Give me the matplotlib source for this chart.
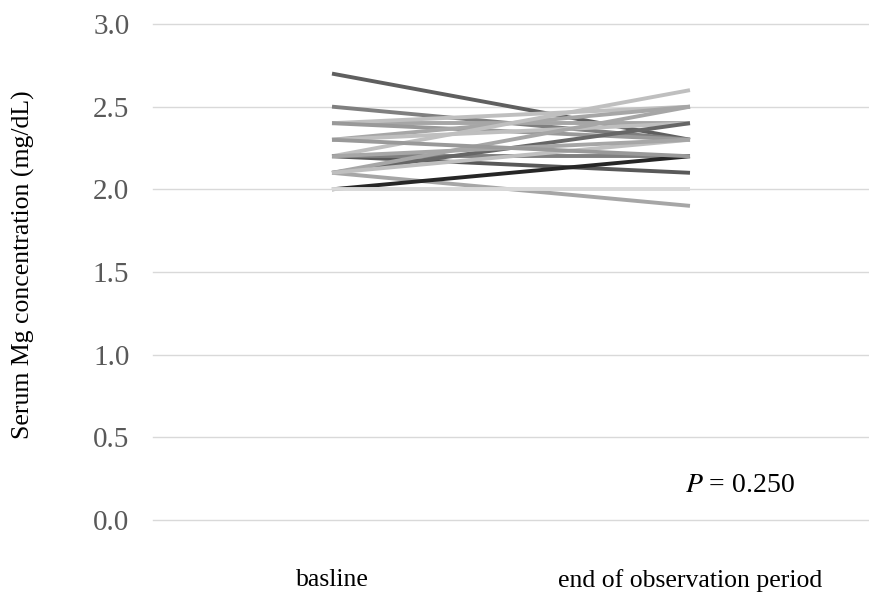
import matplotlib
matplotlib.use("Agg")
import matplotlib.pyplot as plt

categories = ["basline", "end of observation period"]
baseline = [2.7, 2.5, 2.4, 2.4, 2.4, 2.3, 2.3, 2.2, 2.2, 2.2, 2.1, 2.1, 2.1, 2.0, 2.0, 2.1, 2.2, 2.3]
end_obs  = [2.3, 2.3, 2.4, 2.5, 2.3, 2.5, 2.4, 2.6, 2.1, 2.2, 2.4, 2.5, 1.9, 2.2, 2.0, 2.3, 2.3, 2.2]
colors = ["#5f5f5f", "#7f7f7f", "#a6a6a6", "#bfbfbf", "#999999", "#a6a6a6", "#bfbfbf",
          "#bfbfbf", "#595959", "#7f7f7f", "#666666", "#a6a6a6", "#a6a6a6", "#262626",
          "#d9d9d9", "#bfbfbf", "#a6a6a6", "#999999"]
yticks = [0.0, 0.5, 1.0, 1.5, 2.0, 2.5, 3.0]

plt.rcParams['font.family'] = ['Liberation Serif', 'DejaVu Serif']
fig = plt.figure(figsize=(8.69, 5.95), dpi=100)
ax = fig.add_axes([153/869, 75/595, 716/869, 496/595])

x = [0, 1]
for b, e, c in zip(baseline, end_obs, colors):
    ax.plot(x, [b, e], color=c, lw=2.8, solid_capstyle='butt', zorder=3)

ax.set_xlim(-0.5, 1.5)
ax.set_ylim(0, 3)
ax.set_yticks(yticks)
ax.set_yticklabels([f"{v:.1f}" for v in yticks], fontsize=21, color="#595959")
ax.set_xticks(x)
ax.set_xticklabels(categories, fontsize=18.5, color="#000000")
ax.tick_params(axis='both', length=0)
ax.tick_params(axis='y', pad=17)
ax.tick_params(axis='x', pad=35)
ax.yaxis.grid(True, color="#d9d9d9", lw=1)
for gl in ax.get_ygridlines():
    gl.set_clip_on(False)
ax.set_axisbelow(True)
for s in ax.spines.values():
    s.set_visible(False)

fig.text(23/869, 1 - 265/595, "Serum Mg concentration (mg/dL)", rotation=90,
         fontsize=18.5, va='center', ha='center')
ax.text(1.14, 0.21, r"$P$ = 0.250", fontsize=20, ha='center', va='center',
        math_fontfamily='stix')

fig.savefig("out.png", dpi=100)
